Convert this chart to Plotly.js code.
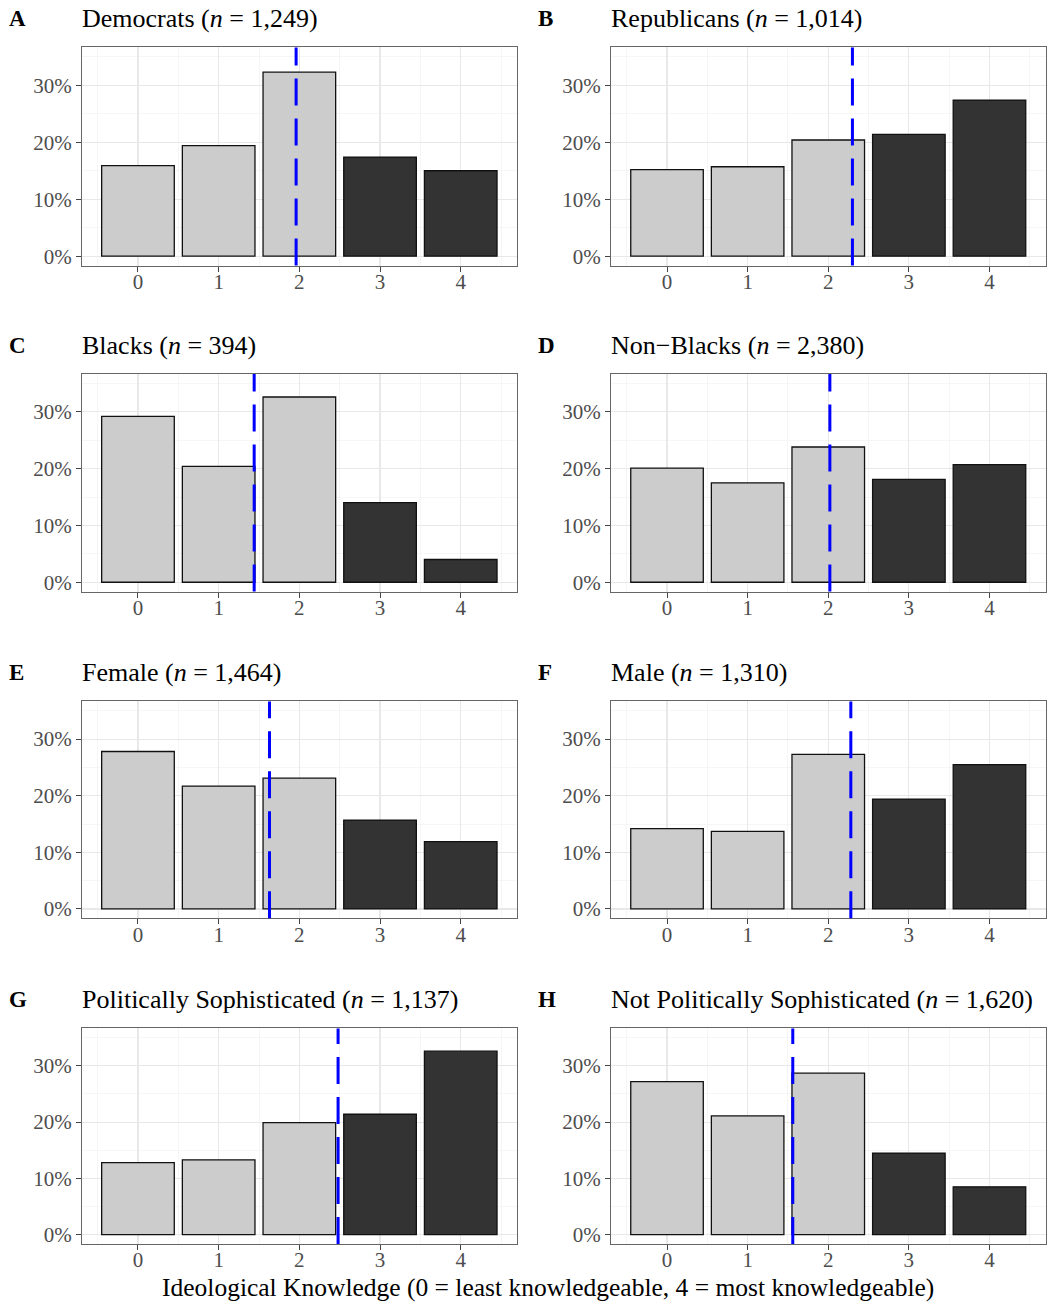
<!DOCTYPE html>
<html>
<head>
<meta charset="utf-8">
<script src="https://cdn.plot.ly/plotly-3.0.1.min.js"></script>
<style>html,body{margin:0;padding:0;background:#fff;}#chart{width:1047px;height:1303px;}</style>
</head>
<body>
<div id="chart"></div>
<script>
// ---- Data ----
const categories = [0, 1, 2, 3, 4];
const panelLetters = ['A', 'B', 'C', 'D', 'E', 'F', 'G', 'H'];
const groupNames = ['Democrats', 'Republicans', 'Blacks', 'Non\u2212Blacks', 'Female', 'Male',
                    'Politically Sophisticated', 'Not Politically Sophisticated'];
const sampleSizes = ['1,249', '1,014', '394', '2,380', '1,464', '1,310', '1,137', '1,620'];
const yTickValues = [0, 10, 20, 30];
const yTickLabels = ['0%', '10%', '20%', '30%'];

const democrats      = [15.9, 19.4, 32.3, 17.4, 15.0];
const republicans    = [15.2, 15.7, 20.4, 21.4, 27.4];
const blacks         = [29.2, 20.4, 32.6, 14.0, 4.0];
const nonBlacks      = [20.1, 17.5, 23.8, 18.1, 20.7];
const female         = [27.8, 21.7, 23.1, 15.7, 11.9];
const male           = [14.2, 13.7, 27.3, 19.4, 25.5];
const sophisticated  = [12.8, 13.3, 19.9, 21.4, 32.6];
const notSophisticated = [27.2, 21.1, 28.7, 14.5, 8.5];

const seriesValues = [democrats, republicans, blacks, nonBlacks, female, male, sophisticated, notSophisticated];
const meanKnowledge = [1.96, 2.30, 1.44, 2.02, 1.63, 2.28, 2.48, 1.56];
const xAxisTitle = 'Ideological Knowledge (0 = least knowledgeable, 4 = most knowledgeable)';

// ---- Layout geometry ----
const W = 1047, H = 1303;
const colPx = [[81.9, 516.8], [611, 1045.5]];
const rowPx = [[47.4, 265.6], [374, 591.6], [701.4, 918.3], [1028.4, 1244]];
const FONT = 'Liberation Serif, Times New Roman, serif';

const traces = [];
const layout = {
  width: W, height: H,
  margin: {l: 0, r: 0, t: 0, b: 0},
  paper_bgcolor: '#fff', plot_bgcolor: '#fff',
  showlegend: false,
  font: {family: FONT, color: '#000'},
  shapes: [], annotations: []
};

seriesValues.forEach((vals, i) => {
  const col = i % 2, row = Math.floor(i / 2);
  const k = i + 1;
  const xa = 'x' + (k === 1 ? '' : k), ya = 'y' + (k === 1 ? '' : k);
  const xKey = 'xaxis' + (k === 1 ? '' : k), yKey = 'yaxis' + (k === 1 ? '' : k);
  const colors = categories.map(c => c <= 2 ? '#CCCCCC' : '#333333');
  traces.push({
    type: 'bar', x: categories, y: vals, width: 0.9,
    xaxis: xa, yaxis: ya,
    marker: {color: colors, line: {color: '#111', width: 1.3}},
    hoverinfo: 'skip'
  });
  const xd = [colPx[col][0] / W, colPx[col][1] / W];
  const yd = [1 - rowPx[row][1] / H, 1 - rowPx[row][0] / H];
  layout[xKey] = {
    domain: xd, anchor: ya, type: 'linear', range: [-0.695, 4.695],
    tickmode: 'array', tickvals: categories, ticktext: categories.map(String),
    showgrid: true, gridcolor: '#E8E8E8', gridwidth: 1.1,
    minor: {dtick: 0.5, tick0: 0, showgrid: true, gridcolor: '#F0F0F0', gridwidth: 0.6},
    zeroline: false, showline: true, mirror: true, linecolor: '#666', linewidth: 1,
    ticks: 'outside', ticklen: 5, tickwidth: 1, tickcolor: '#444',
    ticklabelstandoff: -8,
    tickfont: {family: FONT, size: 21, color: '#4D4D4D'}, fixedrange: true
  };
  layout[yKey] = {
    domain: yd, anchor: xa, range: [-1.65, 36.65],
    tickmode: 'array', tickvals: yTickValues, ticktext: yTickLabels,
    showgrid: true, gridcolor: '#E8E8E8', gridwidth: 1.1,
    minor: {dtick: 5, tick0: 0, showgrid: true, gridcolor: '#F0F0F0', gridwidth: 0.6},
    zeroline: false, showline: true, mirror: true, linecolor: '#666', linewidth: 1,
    ticks: 'outside', ticklen: 5, tickwidth: 1, tickcolor: '#444',
    tickfont: {family: FONT, size: 21, color: '#4D4D4D'}, fixedrange: true
  };
  layout.shapes.push({
    type: 'line', xref: xa, yref: ya + ' domain',
    x0: meanKnowledge[i], x1: meanKnowledge[i], y0: 0, y1: 1,
    line: {color: '#0000FF', width: 3, dash: '27px,13px'}, layer: 'above'
  });
  const titleY = 1 - (rowPx[row][0] - 29) / H;
  layout.annotations.push({
    xref: 'paper', yref: 'paper', x: xd[0] - 2 / W, y: titleY,
    xanchor: 'left', yanchor: 'middle', showarrow: false,
    text: groupNames[i] + ' (<i>n</i> = ' + sampleSizes[i] + ')',
    font: {family: FONT, size: 26, color: '#000'}
  });
  layout.annotations.push({
    xref: 'paper', yref: 'paper', x: (col === 0 ? 7 : 536) / W, y: titleY,
    xanchor: 'left', yanchor: 'middle', showarrow: false,
    text: '<b>' + panelLetters[i] + '</b>',
    font: {family: FONT, size: 23, color: '#000'}
  });
});

layout.annotations.push({
  xref: 'paper', yref: 'paper', x: 548 / W, y: 1 - 1287 / H,
  xanchor: 'center', yanchor: 'middle', showarrow: false,
  text: xAxisTitle, font: {family: FONT, size: 25.5, color: '#000'}
});

Plotly.newPlot('chart', traces, layout, {staticPlot: true, displayModeBar: false});
</script>
</body>
</html>
